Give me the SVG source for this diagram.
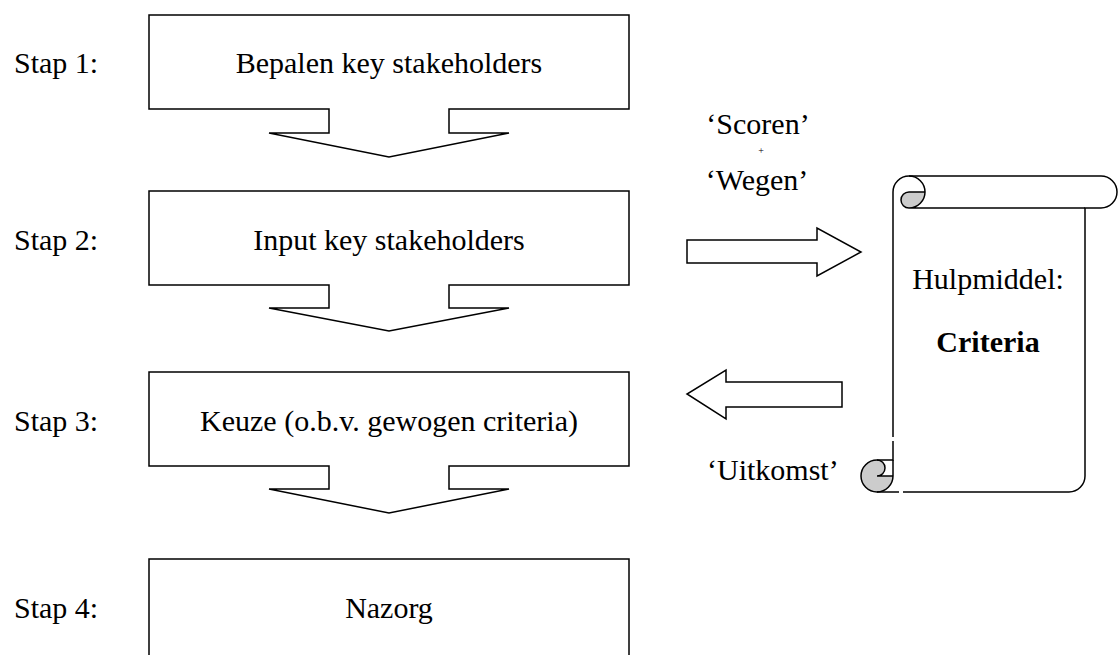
<svg xmlns="http://www.w3.org/2000/svg" width="1118" height="655" viewBox="0 0 1118 655">
<style>
.sh{fill:#fff;stroke:#000;stroke-width:1.5;stroke-linejoin:miter}
.ln{fill:none;stroke:#000;stroke-width:1.5}
.t{font-family:"Liberation Serif","Times New Roman",serif;font-size:30px;fill:#000}
.c{text-anchor:middle}
.b{font-weight:bold}
</style>
<rect width="1118" height="655" fill="#fff"/>
<g id="step1">
<text class="t" x="14" y="73">Stap 1:</text>
<path class="sh" d="M149,15 H629 V109 H449 V133 H509 L389,157 L269,133 H329 V109 H149 Z"/>
<text class="t c" x="389" y="73">Bepalen key stakeholders</text>
</g>
<g id="step2">
<text class="t" x="14" y="250">Stap 2:</text>
<path class="sh" d="M149,191 H629 V285 H449 V308 H509 L389,331 L269,308 H329 V285 H149 Z"/>
<text class="t c" x="389" y="250">Input key stakeholders</text>
</g>
<g id="step3">
<text class="t" x="14" y="431">Stap 3:</text>
<path class="sh" d="M149,372 H629 V466 H449 V489 H509 L389,513 L269,489 H329 V466 H149 Z"/>
<text class="t c" x="389" y="431">Keuze (o.b.v. gewogen criteria)</text>
</g>
<g id="step4">
<text class="t" x="14" y="618">Stap 4:</text>
<rect class="sh" x="149" y="559" width="480" height="110"/>
<text class="t c" x="389" y="618">Nazorg</text>
</g>
<g id="criteria">
<path d="M893,460 V192 A16,16 0 0 1 909,176 H1101 A16,16 0 0 1 1101,208 H1085 V476 A16,16 0 0 1 1069,492 H877 Z" fill="#fff"/>
<path d="M925,192 A16,16 0 0 1 909,208 A8,8 0 0 1 909,192 Z" fill="#cccccc"/>
<path d="M893,476 A16,16 0 0 1 877,492 A16,16 0 0 1 877,460 A8,8 0 0 1 877,476 Z" fill="#cccccc"/>
<path class="ln" d="M893,460 V192 A16,16 0 0 1 909,176 H1101 A16,16 0 0 1 1101,208 H1085 V476 A16,16 0 0 1 1069,492 H877 A16,16 0 0 1 877,460 Z"/>
<path class="ln" d="M909,176 A16,16 0 0 1 909,208 A8,8 0 0 1 909,192 H925 M1085,208 H909 M877,460 A8,8 0 0 1 877,476 H893 M877,492 A16,16 0 0 0 893,476 V460"/>
<rect x="891" y="437" width="4" height="4" fill="#fff"/>
<rect x="899" y="490" width="4" height="4" fill="#fff"/>
<text class="t c" x="988" y="289">Hulpmiddel:</text>
<text class="t c b" x="988" y="352">Criteria</text>
</g>
<g id="connectors">
<path class="sh" d="M687,240 H817 V228 L861,252 L817,276 V263 H687 Z"/>
<path class="sh" d="M842,382 H726 V370 L687,394 L726,419 V407 H842 Z"/>
<text class="t c" x="758" y="134">‘Scoren’</text>
<text class="t c" x="761" y="154" style="font-size:10px">+</text>
<text class="t c" x="757" y="190">‘Wegen’</text>
<text class="t" x="707" y="480">‘Uitkomst’</text>
</g>
</svg>
